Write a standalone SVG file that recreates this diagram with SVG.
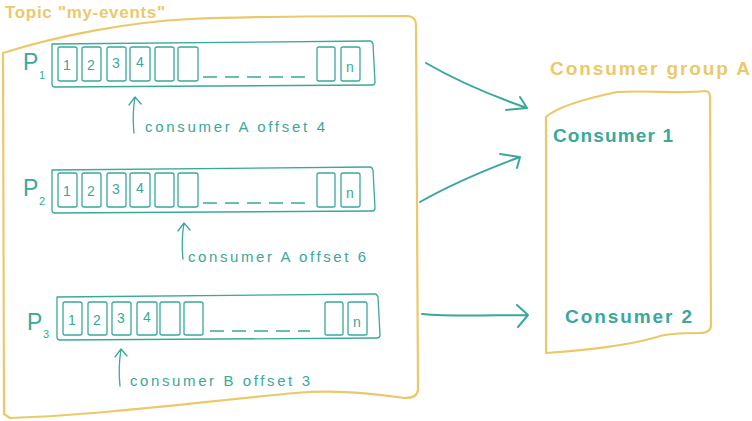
<svg xmlns="http://www.w3.org/2000/svg" width="752" height="421" viewBox="0 0 752 421">
<defs>
<style>
.y{fill:none;stroke:#ebc96b;stroke-width:2.2;stroke-linecap:round;stroke-linejoin:round}
.t{fill:none;stroke:#3aa89b;stroke-width:1.3;stroke-linecap:round;stroke-linejoin:round}
.c{fill:none;stroke:#3aa89b;stroke-width:2;stroke-linecap:round;stroke-linejoin:round}
.d{fill:none;stroke:#3aa89b;stroke-width:1.3;stroke-dasharray:14 8}
.ty{fill:#ebc96b;font-family:"Liberation Sans",Arial,sans-serif;font-weight:bold}
.tt{fill:#3aa89b;font-family:"Liberation Sans",Arial,sans-serif}
.n{fill:#3aa89b;font-family:"Liberation Sans",Arial,sans-serif;font-size:14px;text-anchor:middle}
.lbl{font-size:15px}
.b{font-weight:bold;font-size:19px}
</style>
</defs>
<g id="topic">
<path class="y" d="M3,53 C60,35 130,22 190,19 C260,16 330,16 408,16 Q416,17 416,25 L418,390 Q417,398 405,398 C360,392 330,390 295,393 C200,402 100,415 10,418 L4,414 L3,53 Z"/>
<text class="ty" x="5" y="18" font-size="17" textLength="160" lengthAdjust="spacing">Topic "my-events"</text>
</g>
<g id="p1">
<path class="t" d="M52,44 L370,41 Q372,41 373,44 L375,82 Q375,85 372,85 L55,87 Q52,87 52,84 Z"/>
<rect class="t" x="58" y="47" width="19" height="34" rx="2"/>
<rect class="t" x="82" y="47" width="19" height="34" rx="2"/>
<rect class="t" x="107" y="47" width="19" height="34" rx="2"/>
<rect class="t" x="130" y="47" width="20" height="34" rx="2"/>
<rect class="t" x="155" y="47" width="19" height="34" rx="2"/>
<rect class="t" x="178" y="47" width="20" height="34" rx="2"/>
<rect class="t" x="317" y="47" width="18" height="34" rx="2"/>
<rect class="t" x="341" y="47" width="19" height="34" rx="2"/>
<line class="d" x1="203" y1="77" x2="305" y2="77"/>
<text class="n" x="67" y="70">1</text><text class="n" x="91" y="70">2</text><text class="n" x="116" y="68">3</text><text class="n" x="140" y="67">4</text><text class="n" x="350" y="72">n</text>
<text class="tt" x="23" y="70" font-size="23" font-weight="300">P</text><text class="tt" x="39" y="79" font-size="11">1</text>
<path class="t" d="M134,133 Q132,115 135,97 M129,105 L135,97 L141,104"/>
<text class="tt lbl" x="145" y="132" textLength="180" lengthAdjust="spacing">consumer A offset 4</text>
</g>
<g id="p2">
<path class="t" d="M52,170 L370,167 Q372,167 373,170 L375,208 Q375,211 372,211 L55,213 Q52,213 52,210 Z"/>
<rect class="t" x="58" y="173" width="19" height="34" rx="2"/>
<rect class="t" x="82" y="173" width="19" height="34" rx="2"/>
<rect class="t" x="107" y="173" width="19" height="34" rx="2"/>
<rect class="t" x="130" y="173" width="20" height="34" rx="2"/>
<rect class="t" x="155" y="173" width="19" height="34" rx="2"/>
<rect class="t" x="178" y="173" width="20" height="34" rx="2"/>
<rect class="t" x="317" y="173" width="18" height="34" rx="2"/>
<rect class="t" x="341" y="173" width="19" height="34" rx="2"/>
<line class="d" x1="203" y1="203" x2="305" y2="203"/>
<text class="n" x="67" y="196">1</text><text class="n" x="91" y="196">2</text><text class="n" x="116" y="194">3</text><text class="n" x="140" y="193">4</text><text class="n" x="350" y="198">n</text>
<text class="tt" x="23" y="196" font-size="23" font-weight="300">P</text><text class="tt" x="39" y="205" font-size="11">2</text>
<path class="t" d="M183,259 Q181,241 184,223 M178,231 L184,223 L190,230"/>
<text class="tt lbl" x="188" y="262" textLength="178" lengthAdjust="spacing">consumer A offset 6</text>
</g>
<g id="p3">
<path class="t" d="M57,297 L375,294 Q377,294 378,297 L380,335 Q380,338 377,338 L60,340 Q57,340 57,337 Z"/>
<rect class="t" x="63" y="302" width="19" height="33" rx="2"/>
<rect class="t" x="88" y="302" width="19" height="33" rx="2"/>
<rect class="t" x="112" y="302" width="19" height="33" rx="2"/>
<rect class="t" x="137" y="302" width="20" height="33" rx="2"/>
<rect class="t" x="160" y="302" width="20" height="33" rx="2"/>
<rect class="t" x="184" y="302" width="19" height="33" rx="2"/>
<rect class="t" x="325" y="302" width="18" height="33" rx="2"/>
<rect class="t" x="348" y="302" width="19" height="33" rx="2"/>
<line class="d" x1="210" y1="331" x2="310" y2="331"/>
<text class="n" x="72" y="325">1</text><text class="n" x="97" y="325">2</text><text class="n" x="121" y="323">3</text><text class="n" x="147" y="322">4</text><text class="n" x="357" y="327">n</text>
<text class="tt" x="27" y="330" font-size="23" font-weight="300">P</text><text class="tt" x="43" y="338" font-size="11">3</text>
<path class="t" d="M120,386 Q118,368 121,349 M115,357 L121,349 L127,356"/>
<text class="tt lbl" x="130" y="386" textLength="180" lengthAdjust="spacing">consumer B offset 3</text>
</g>
<g id="group">
<path class="y" d="M546,117 Q560,104 617,92 C650,90 680,94 705,91 Q710,91 710,97 L711,325 Q711,333 700,333 C680,333 665,334 657,337 C630,345 590,350 546,353 Z"/>
<text class="ty" x="550" y="75" font-size="19" textLength="200" lengthAdjust="spacing">Consumer group A</text>
</g>
<g id="c1"><text class="tt b" x="553" y="142" textLength="120" lengthAdjust="spacing">Consumer 1</text></g>
<g id="c2"><text class="tt b" x="565" y="323" textLength="127" lengthAdjust="spacing">Consumer 2</text></g>
<g id="connectors">
<path class="c" d="M426,63 C455,80 490,95 527,108 M506,110 L527,108 L520,97"/>
<path class="c" d="M420,202 C450,185 485,170 520,157 M500,154 L520,157 L517,168"/>
<path class="c" d="M422,314 C455,317 490,315 528,315 M517,305 L528,315 L518,327"/>
</g>
</svg>
